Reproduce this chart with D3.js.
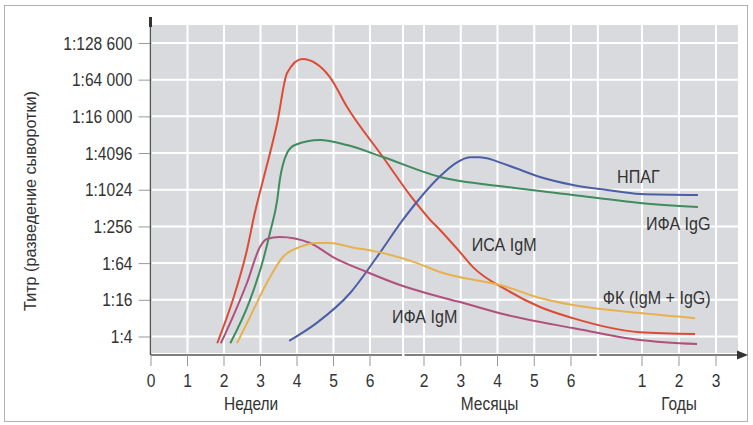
<!DOCTYPE html>
<html>
<head>
<meta charset="utf-8">
<script src="https://cdn.jsdelivr.net/npm/d3@7/dist/d3.min.js"></script>
<style>
  html, body { margin: 0; padding: 0; background: #fff; }
  svg text { font-family: "Liberation Sans", Arial, sans-serif; fill: #333; }
</style>
</head>
<body>
<svg id="chart" width="753" height="425"></svg>
<script>
// Time axis: days since infection, shown in weeks, then months, then years
const weekTicks = [0, 1, 2, 3, 4, 5, 6];
const monthTicks = [2, 3, 4, 5, 6];
const yearTicks = [1, 2, 3];
const axisBreaks = [53, 250]; // days where the time axis changes unit

// Serum dilution levels (titre denominators) and their labels
const titreTicks = [4, 16, 64, 256, 1024, 4096, 16000, 64000, 128600];
const titreLabels = ["1:4", "1:16", "1:64", "1:256", "1:1024", "1:4096", "1:16 000", "1:64 000", "1:128 600"];

// Series: [day, titre]
const isaIgM = [[12.7,3.1],[15.7,16],[18.4,105],[19.9,424],[21.5,1480],[24.2,12500],[26.1,72600],[29,94800],[34.3,67300],[37.6,22800],[46.3,3530],[56.3,722],[64.9,330],[73.1,224],[89.4,97],[100,55],[127.8,23],[154.7,12.2],[185,8],[274,5.7],[360,4.7],[888,4.4]];
const ifaIgG = [[15.2,3.1],[19,16],[21.5,72],[22.8,200],[24.2,694],[24.7,1480],[26.1,4100],[27.6,5520],[32.4,6650],[37.6,5520],[46.3,3530],[73.1,1657],[127.8,1137],[185,839],[360,621],[917,534]];
const npag = [[26.5,3.4],[31.8,6.7],[38.2,20.7],[44.3,80.6],[53,330],[58.7,750],[73.1,1700],[85.3,2750],[97.5,3500],[105.7,3480],[127.8,2606],[154.7,1657],[185,1225],[274,1014],[360,872],[917,839]];
const ifaIgM = [[13.4,3.1],[15.7,8.4],[18.4,30.2],[20.9,118],[22.2,159],[24.7,172],[30.5,137],[34.9,80.6],[41.4,45.8],[52,28],[67.3,19.2],[89.4,14.7],[127.8,9],[185,5.5],[360,3.5],[908,3]];
const fk = [[16.5,3.1],[19,8.4],[22.2,30.2],[25.3,80.6],[28.6,118],[31.8,137],[34.3,137],[38.2,118],[46.3,93.8],[57.7,64],[73.1,45.8],[127.8,26],[154.7,17.1],[185,13.1],[360,9.7],[888,8]];

const seriesNames = ["ИСА IgM", "ИФА IgG", "НПАГ", "ИФА IgM", "ФК (IgM + IgG)"];
const seriesData = [isaIgM, ifaIgG, npag, ifaIgM, fk];
const seriesColors = ["#dc4b36", "#3f8c5e", "#4c5fa6", "#b0507c", "#e6b24e"];
// label anchors, [day, titre]
const labelAnchors = [[99,101],[404,224],[300,1322],[49.3,6.7],[263,13.7]];

const svg = d3.select("#chart");

// narrow the type horizontally around each text's own anchor point
function condense(sel, s) {
  sel.each(function () {
    const t = d3.select(this);
    const tx = +t.attr("x") || 0, ty = +t.attr("y") || 0;
    const prev = t.attr("transform") || "";
    t.attr("transform", `${prev} translate(${tx},${ty}) scale(${s},1)`).attr("x", 0).attr("y", 0);
  });
}

// piecewise time scale: weeks, months, years on one axis
const x = d3.scaleLinear()
  .domain([0, 42, 60, 180, 365, 1095])
  .range([151, 370, 424, 571, 642, 716]);

const y = d3.scaleLog()
  .domain(titreTicks)
  .range(titreTicks.map((d, i) => 336.5 - i * 36.69));

const plot = { left: 152, right: 738, top: 25, bottom: 353 };

// outer frame
svg.append("rect")
  .attr("x", 4.5).attr("y", 5.5).attr("width", 743).attr("height", 416)
  .attr("fill", "none").attr("stroke", "#b0b0b0").attr("stroke-width", 1);

// plot background
svg.append("rect")
  .attr("x", plot.left).attr("y", plot.top)
  .attr("width", plot.right - plot.left).attr("height", plot.bottom - plot.top)
  .attr("fill", "#d9dade");

const xTickDays = weekTicks.map(w => w * 7)
  .concat(monthTicks.map(m => m * 30))
  .concat(yearTicks.map(yv => yv * 365));
const xTickLabels = weekTicks.concat(monthTicks).concat(yearTicks).map(String);

// grid
const grid = svg.append("g").attr("stroke", "#fff").attr("stroke-width", 2);
grid.selectAll("line.h").data(titreTicks).join("line")
  .attr("class", "h")
  .attr("x1", plot.left).attr("x2", plot.right)
  .attr("y1", d => y(d)).attr("y2", d => y(d));
grid.selectAll("line.v").data(xTickDays.slice(1).concat(axisBreaks)).join("line")
  .attr("class", "v")
  .attr("y1", plot.top).attr("y2", plot.bottom)
  .attr("x1", d => x(d)).attr("x2", d => x(d));

// curves
const line = d3.line()
  .x(d => x(d[0]))
  .y(d => y(d[1]))
  .curve(d3.curveMonotoneX);

svg.append("g").selectAll("path").data(seriesData).join("path")
  .attr("d", line)
  .attr("fill", "none")
  .attr("stroke", (d, i) => seriesColors[i])
  .attr("stroke-width", 2);

// series labels
const labels = svg.append("g").selectAll("text").data(seriesNames).join("text")
  .attr("x", (d, i) => x(labelAnchors[i][0]))
  .attr("y", (d, i) => y(labelAnchors[i][1]))
  .attr("font-size", 17.5)
  .text(d => d);
condense(labels, 0.92);

// y axis
const axisColor = "#555";
const yAxis = d3.axisLeft(y)
  .tickValues(titreTicks)
  .tickFormat((d, i) => titreLabels[i])
  .tickSize(12)
  .tickPadding(6);
const gy = svg.append("g").attr("transform", "translate(150.5,0)").call(yAxis);
gy.select(".domain").remove();
gy.selectAll(".tick line").attr("stroke", "#999");
const yTickText = gy.selectAll(".tick text").attr("font-size", 19).attr("fill", "#333");
condense(yTickText, 0.82);
svg.append("line")
  .attr("x1", 150.5).attr("x2", 150.5).attr("y1", 17).attr("y2", 355)
  .attr("stroke", axisColor).attr("stroke-width", 1.5);
svg.append("line")
  .attr("x1", 150.5).attr("x2", 150.5).attr("y1", 17).attr("y2", 27)
  .attr("stroke", "#333").attr("stroke-width", 3);

// x axis, broken where the unit changes
const segs = [[x(0), x(axisBreaks[0]) - 1], [x(axisBreaks[0]) + 1.5, x(axisBreaks[1]) - 1], [x(axisBreaks[1]) + 1.5, 740]];
svg.append("g").selectAll("line").data(segs).join("line")
  .attr("x1", d => d[0]).attr("x2", d => d[1])
  .attr("y1", 355).attr("y2", 355)
  .attr("stroke", axisColor).attr("stroke-width", 1.5);
svg.append("path")
  .attr("d", "M737,350.5 L748,355 L737,359.5 Z")
  .attr("fill", "#333");

const gx = svg.append("g");
gx.selectAll("line").data(xTickDays).join("line")
  .attr("x1", d => x(d)).attr("x2", d => x(d))
  .attr("y1", 355).attr("y2", 366)
  .attr("stroke", "#999");
const xTickText = gx.selectAll("text").data(xTickDays).join("text")
  .attr("x", d => x(d)).attr("y", 387)
  .attr("text-anchor", "middle")
  .attr("font-size", 19)
  .text((d, i) => xTickLabels[i]);
condense(xTickText, 0.82);

// unit captions
const captions = svg.append("g");
captions.append("text").attr("x", x(14)).attr("y", 410).attr("font-size", 18).text("Недели");
captions.append("text").attr("x", x(90)).attr("y", 410).attr("font-size", 18).text("Месяцы");
captions.append("text").attr("x", x(730)).attr("y", 410).attr("font-size", 18)
  .attr("text-anchor", "middle").text("Годы");
condense(captions.selectAll("text"), 0.86);

// y axis title
svg.append("text")
  .attr("transform", "translate(36,201) rotate(-90) scale(0.95,1)")
  .attr("text-anchor", "middle")
  .attr("font-size", 17)
  .attr("fill", "#444")
  .text("Титр (разведение сыворотки)");
</script>
</body>
</html>
